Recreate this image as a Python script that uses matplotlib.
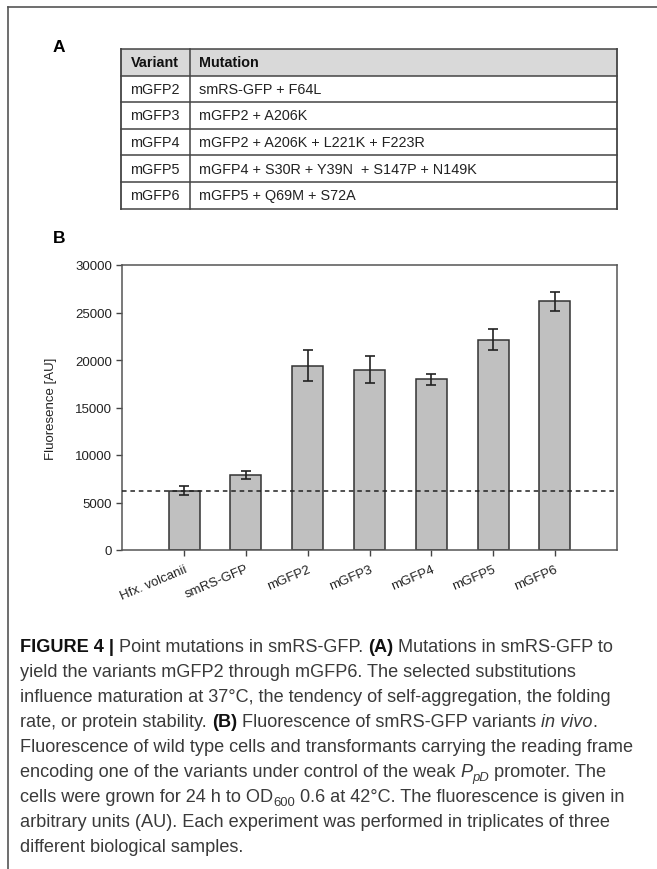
#!/usr/bin/env python3
"""Figure 4: mGFP variant table (A) and in vivo fluorescence bars (B)."""
import matplotlib
matplotlib.use("Agg")
import matplotlib.pyplot as plt
from matplotlib.patches import Rectangle

plt.rcParams["font.family"] = ["Liberation Sans", "DejaVu Sans"]

# ---- data ---------------------------------------------------------------
variants = ["mGFP2", "mGFP3", "mGFP4", "mGFP5", "mGFP6"]
mutations = [
    "smRS-GFP + F64L",
    "mGFP2 + A206K",
    "mGFP2 + A206K + L221K + F223R",
    "mGFP4 + S30R + Y39N  + S147P + N149K",
    "mGFP5 + Q69M + S72A",
]
table_header = ["Variant", "Mutation"]

strains = ["Hfx. volcanii", "smRS-GFP", "mGFP2", "mGFP3", "mGFP4", "mGFP5", "mGFP6"]
fluor = [6250, 7900, 19400, 19000, 17950, 22150, 26200]
fluor_err = [500, 430, 1650, 1450, 550, 1100, 1000]
baseline = 6250  # wild type level (dashed line)
yticks = [0, 5000, 10000, 15000, 20000, 25000, 30000]

caption = [
    [("FIGURE 4 |", "b"), (" Point mutations in smRS-GFP. ", "n"), ("(A)", "b"),
     (" Mutations in smRS-GFP to", "n")],
    [("yield the variants mGFP2 through mGFP6. The selected substitutions", "n")],
    [("influence maturation at 37°C, the tendency of self-aggregation, the folding", "n")],
    [("rate, or protein stability. ", "n"), ("(B)", "b"),
     (" Fluorescence of smRS-GFP variants ", "n"), ("in vivo", "i"), (".", "n")],
    [("Fluorescence of wild type cells and transformants carrying the reading frame", "n")],
    [("encoding one of the variants under control of the weak ", "n"), ("P", "i"),
     ("pD", "isub"), (" promoter. The", "n")],
    [("cells were grown for 24 h to OD", "n"), ("600", "sub"),
     (" 0.6 at 42°C. The fluorescence is given in", "n")],
    [("arbitrary units (AU). Each experiment was performed in triplicates of three", "n")],
    [("different biological samples.", "n")],
]

W, H = 657, 870
fig = plt.figure(figsize=(W / 100, H / 100), dpi=100)

# overlay axes in pixel units for frame, table and caption
ov = fig.add_axes([0, 0, 1, 1])
ov.set_xlim(0, W)
ov.set_ylim(H, 0)
ov.axis("off")

frame_c = "#555555"
ov.plot([8, W], [8, 8], color=frame_c, lw=1.2)
ov.plot([8, 8], [8, H], color=frame_c, lw=1.2)

ov.text(53, 52, "A", fontsize=12.5, fontweight="bold", va="baseline")
ov.text(53, 243, "B", fontsize=12.5, fontweight="bold", va="baseline")

# ---- table (A) -----------------------------------------------------------
tx0, tx1, tdiv = 120.5, 617, 190
ty0, row_h = 50, 26.6
n_rows = len(variants) + 1
ov.add_patch(Rectangle((tx0, ty0), tx1 - tx0, row_h, facecolor="#d9d9d9",
                       edgecolor="none", zorder=1))
line_c = "#444444"
for i in range(n_rows + 1):
    ov.plot([tx0, tx1], [ty0 + i * row_h] * 2, color=line_c, lw=1.1, zorder=2)
ov.plot([tx0, tx0], [ty0, ty0 + n_rows * row_h], color=line_c, lw=1.3, zorder=2)
ov.plot([tx1, tx1], [ty0, ty0 + n_rows * row_h], color=line_c, lw=1.3, zorder=2)
ov.plot([tdiv, tdiv], [ty0, ty0 + n_rows * row_h], color=line_c, lw=1.1, zorder=2)

tab_fs = 10.4
ov.text(tx0 + 10, ty0 + row_h / 2, table_header[0], fontsize=tab_fs,
        fontweight="bold", va="center", color="#111111")
ov.text(tdiv + 9, ty0 + row_h / 2, table_header[1], fontsize=tab_fs,
        fontweight="bold", va="center", color="#111111")
for i, (v, m) in enumerate(zip(variants, mutations)):
    yc = ty0 + (i + 1.5) * row_h
    ov.text(tx0 + 10, yc, v, fontsize=tab_fs, va="center", color="#222222")
    ov.text(tdiv + 9, yc, m, fontsize=tab_fs, va="center", color="#222222")

# ---- bar chart (B) -------------------------------------------------------
ax = fig.add_axes([122.3 / W, 1 - 551 / H, (616.7 - 122.3) / W, (551 - 266) / H])
xs = list(range(1, len(strains) + 1))
ax.bar(xs, fluor, width=0.5, color="#c0c0c0", edgecolor="#333333",
       linewidth=1.1, zorder=2)
ax.errorbar(xs, fluor, yerr=fluor_err, fmt="none", ecolor="#222222",
            elinewidth=1.2, capsize=3.5, capthick=1.2, zorder=3)
ax.axhline(baseline, color="#222222", lw=1.1, ls=(0, (3, 2.5)), zorder=4)

ax.set_xlim(0, len(strains) + 1)
ax.set_ylim(0, 30000)
ax.set_yticks(yticks)
ax.set_yticklabels([str(t) for t in yticks], fontsize=9.5, color="#222222")
ax.set_xticks(xs)
ax.set_xticklabels(strains, rotation=23, ha="right", rotation_mode="anchor",
                   fontsize=9.5, color="#222222")
ax.tick_params(axis="both", direction="out", length=4, width=1, color="#444444")
ax.tick_params(axis="x", pad=5)
for s in ax.spines.values():
    s.set_color("#555555")
    s.set_linewidth(1.1)
ax.set_ylabel("Fluoresence [AU]", fontsize=9.5, color="#222222")
ax.yaxis.set_label_coords(-0.132, 0.5)

# ---- caption -------------------------------------------------------------
renderer = fig.canvas.get_renderer()
cap_size = 13.1
styles = {
    "n": dict(fontsize=cap_size, color="#3a3a3a"),
    "b": dict(fontsize=cap_size, color="#111111", fontweight="bold"),
    "i": dict(fontsize=cap_size, color="#3a3a3a", fontstyle="italic"),
    "sub": dict(fontsize=cap_size * 0.72, color="#3a3a3a"),
    "isub": dict(fontsize=cap_size * 0.72, color="#3a3a3a", fontstyle="italic"),
}


def seg_width(text, kw):
    # measure with bars around the text so edge spaces count
    a = ov.text(0, 0, "|" + text + "|", **kw)
    b = ov.text(0, 0, "||", **kw)
    w = a.get_window_extent(renderer).width - b.get_window_extent(renderer).width
    a.remove()
    b.remove()
    return w


y0, dy = 652.5, 24.9
for li, line in enumerate(caption):
    x = 20
    y = y0 + li * dy
    for text, st in line:
        kw = styles[st]
        yy = y + (4 if "sub" in st else 0)
        ov.text(x, yy, text, va="baseline", ha="left", **kw)
        x += seg_width(text, kw)

fig.savefig("out.png", dpi=100)
